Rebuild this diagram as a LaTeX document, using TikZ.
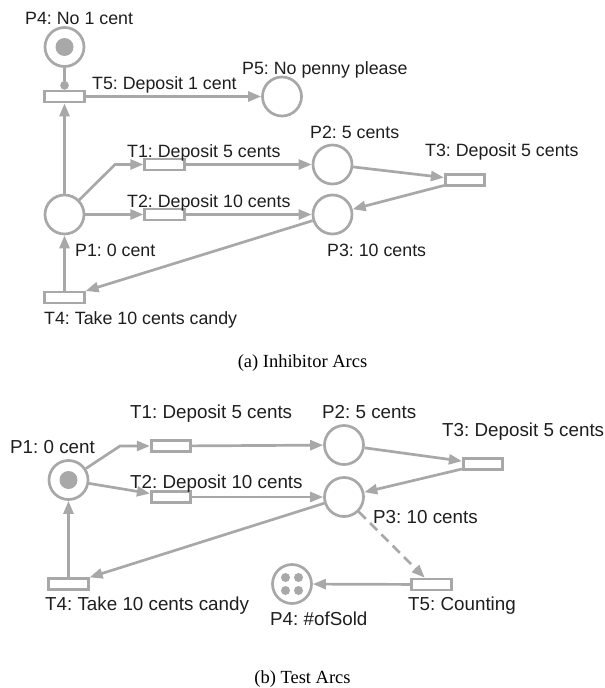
\documentclass[tikz,border=0pt]{standalone}
\usepackage{fontspec}
\setmainfont{Liberation Serif}
\newfontfamily\lbsans{Liberation Sans}
\usetikzlibrary{arrows.meta,calc}
\definecolor{pn}{HTML}{A8A8A8}
\definecolor{tx}{HTML}{1E1E1E}
\frenchspacing
\begin{document}
\begin{tikzpicture}[x=1pt,y=-1pt,
  place/.style={circle,draw=pn,line width=2.7pt,minimum size=39pt,inner sep=0pt},
  trans/.style={rectangle,draw=pn,line width=2.7pt,minimum width=39.5pt,minimum height=11pt,inner sep=0pt},
  arc/.style={draw=pn,line width=2.7pt,-{Triangle[length=13pt,width=10pt]}},
  inhib/.style={draw=pn,line width=2.7pt,-{Circle[length=8.5pt]}},
  testarc/.style={arc,dash pattern=on 10pt off 6pt},
  tok/.style={circle,fill=pn,inner sep=0pt,minimum size=18pt},
  smalltok/.style={circle,fill=pn,inner sep=0pt,minimum size=9pt},
  lblA/.style={anchor=base west,inner sep=0pt,text=tx,font=\lbsans\fontsize{17.8}{20}\selectfont},
  lblB/.style={anchor=base west,inner sep=0pt,text=tx,font=\lbsans\fontsize{18.8}{21}\selectfont},
  capt/.style={anchor=base,inner sep=0pt,text=black,font=\fontsize{18.5}{21}\selectfont}
]
\useasboundingbox (0,0) rectangle (605,688);

% ---------------- (a) Inhibitor Arcs ----------------
\node[place] (aP4) at (64.5,47) {};
\node[tok] (aP4t) at (64.5,47) {};
\node[trans] (aT5) at (64.5,96.5) {};
\node[place] (aP5) at (282,96.5) {};
\node[place] (aP1) at (64.5,214.5) {};
\node[trans] (aT1) at (164.5,164.5) {};
\node[trans] (aT2) at (164.5,214.5) {};
\node[place] (aP2) at (332.5,164.5) {};
\node[place] (aP3) at (332.5,214.5) {};
\node[trans] (aT3) at (465,180) {};
\node[trans] (aT4) at (64.5,297.5) {};
\coordinate (aB1) at (115,164.5);

\draw[inhib] (aP4) -- (aT5);
\draw[arc] (aT5) -- (aP5);
\draw[arc] (aP1) -- (aT5);
\draw[arc] (aP1) -- (aB1) -- (aT1);
\draw[arc] (aP1) -- (aT2);
\draw[arc] (aT1) -- (aP2);
\draw[arc] (aT2) -- (aP3);
\draw[arc] (aP2) -- (aT3);
\draw[arc] (aT3) -- (aP3);
\draw[arc] (aP3) -- (aT4);
\draw[arc] (aT4) -- (aP1);

\node[lblA] (aLP4) at (25,24) {P4: No 1 cent};
\node[lblA] (aLT5) at (92,89) {T5: Deposit 1 cent};
\node[lblA] (aLP5) at (242,74) {P5: No penny please};
\node[lblA] (aLT1) at (127,157) {T1: Deposit 5 cents};
\node[lblA] (aLT2) at (127,207) {T2: Deposit 10 cents};
\node[lblA] (aLP2) at (310,138) {P2: 5 cents};
\node[lblA] (aLT3) at (425,156) {T3: Deposit 5 cents};
\node[lblA] (aLP1) at (75,256) {P1: 0 cent};
\node[lblA] (aLP3) at (327,256) {P3: 10 cents};
\node[lblA] (aLT4) at (44,324) {T4: Take 10 cents candy};
\node[capt] (capA) at (302.5,367) {(a) Inhibitor Arcs};

% ---------------- (b) Test Arcs ----------------
\node[place] (bP1) at (68.5,480) {};
\node[tok] (bP1t) at (68.5,480) {};
\node[trans] (bT1) at (171,446) {};
\node[trans] (bT2) at (171,497) {};
\node[place] (bP2) at (344,445) {};
\node[place] (bP3) at (344,497) {};
\node[trans] (bT3) at (483,464) {};
\node[trans] (bT4) at (68.5,584) {};
\node[trans] (bT5) at (431.5,584.5) {};
\node[place] (bP4) at (292,584) {};
\node[smalltok] (bP4a) at (285.5,577.5) {};
\node[smalltok] (bP4b) at (298.5,577.5) {};
\node[smalltok] (bP4c) at (285.5,590.5) {};
\node[smalltok] (bP4d) at (298.5,590.5) {};
\coordinate (bB1) at (120,446);

\draw[arc] (bP1) -- (bB1) -- (bT1);
\draw[arc] (bP1) -- (bT2);
\draw[arc] (bT1) -- (bP2);
\draw[arc] (bT2) -- (bP3);
\draw[arc] (bP2) -- (bT3);
\draw[arc] (bT3) -- (bP3);
\draw[arc] (bP3) -- (bT4);
\draw[arc] (bT4) -- (bP1);
\draw[testarc] (bP3) -- (bT5);
\draw[arc] (bT5) -- (bP4);

\node[lblB] (bLT1) at (130,418) {T1: Deposit 5 cents};
\node[lblB] (bLP2) at (322,418) {P2: 5 cents};
\node[lblB] (bLT3) at (442,436) {T3: Deposit 5 cents};
\node[lblB] (bLP1) at (10,453) {P1: 0 cent};
\node[lblB] (bLT2) at (130,488) {T2: Deposit 10 cents};
\node[lblB] (bLP3) at (373,523) {P3: 10 cents};
\node[lblB] (bLT4) at (45,610) {T4: Take 10 cents candy};
\node[lblB] (bLP4) at (270,625) {P4: \#ofSold};
\node[lblB] (bLT5) at (408,610) {T5: Counting};
\node[capt] (capB) at (302.5,683) {(b) Test Arcs};
\end{tikzpicture}
\end{document}
